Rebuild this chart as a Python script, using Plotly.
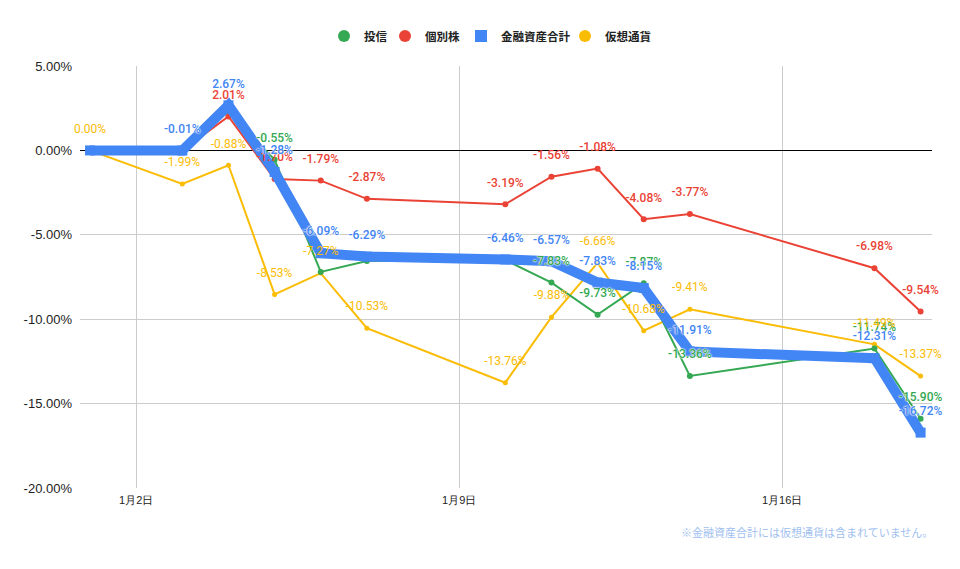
import plotly.graph_objects as go

dates = ["2024-01-01", "2024-01-03", "2024-01-04", "2024-01-05", "2024-01-06", "2024-01-07",
         "2024-01-10", "2024-01-11", "2024-01-12", "2024-01-13", "2024-01-14", "2024-01-18", "2024-01-19"]
toushin = [0.00, 0.00, 2.31, -0.55, -7.20, -6.55, -6.50, -7.83, -9.73, -7.87, -13.36, -11.74, -15.90]
kobetsu = [0.00, 0.00, 2.01, -1.70, -1.79, -2.87, -3.19, -1.56, -1.08, -4.08, -3.77, -6.98, -9.54]
total = [0.00, -0.01, 2.67, -1.28, -6.09, -6.29, -6.46, -6.57, -7.83, -8.15, -11.91, -12.31, -16.72]
crypto = [0.00, -1.99, -0.88, -8.53, -7.27, -10.53, -13.76, -9.88, -6.66, -10.68, -9.41, -11.49, -13.37]

names = ["投信", "個別株", "金融資産合計", "仮想通貨"]
colors = ["#34A853", "#EA4335", "#4285F4", "#FBBC04"]
x_ticks = ["2024-01-02", "2024-01-09", "2024-01-16"]
x_ticklabels = ["1月2日", "1月9日", "1月16日"]
y_ticks = [5, 0, -5, -10, -15, -20]
y_ticklabels = ["5.00%", "0.00%", "-5.00%", "-10.00%", "-15.00%", "-20.00%"]
footnote = "※金融資産合計には仮想通貨は含まれていません。"

# indices whose data labels are hidden behind other labels in the original chart
hidden_labels = {
    "投信": {0, 1, 2, 4, 5, 6},
    "個別株": {0, 1},
    "金融資産合計": {0},
    "仮想通貨": set(),
}

series = dict(zip(names, [toushin, kobetsu, total, crypto]))
col = dict(zip(names, colors))

fig = go.Figure()

styles = {
    "投信": dict(width=2, size=6, symbol="circle"),
    "個別株": dict(width=2, size=6, symbol="circle"),
    "金融資産合計": dict(width=10, size=10, symbol="square"),
    "仮想通貨": dict(width=2, size=5, symbol="circle"),
}
for n in ["仮想通貨", "投信", "個別株", "金融資産合計"]:
    st = styles[n]
    fig.add_trace(go.Scatter(
        x=dates, y=series[n], mode="lines+markers", name=n, showlegend=False,
        line=dict(color=col[n], width=st["width"]),
        marker=dict(color=col[n], size=st["size"], symbol=st["symbol"]),
        cliponaxis=False, hoverinfo="skip"))

halo = "0px 0px 2px white, 0px 0px 2px white, 0px 0px 1px white"
# labels on top of all lines
for n in ["投信", "個別株", "仮想通貨", "金融資産合計"]:
    is_crypto = n == "仮想通貨"
    labels = ["" if i in hidden_labels[n] else f"{v:.2f}%" for i, v in enumerate(series[n])]
    fig.add_trace(go.Scatter(
        x=dates, y=series[n], mode="markers+text", showlegend=False,
        text=labels,
        textposition="top center",
        marker=dict(size=22, opacity=0, color=col[n]),
        textfont=dict(family="Roboto", size=12, color=col[n],
                      weight=400 if is_crypto else 500,
                      shadow=halo if n in ("金融資産合計", "投信") else "none"),
        cliponaxis=False, hoverinfo="skip"))

# legend entries, each in its own legend to match spacing
legend_px = [345, 406, 482, 586]
legend_ids = ["legend", "legend2", "legend3", "legend4"]
for n, lid in zip(names, legend_ids):
    st = styles[n]
    fig.add_trace(go.Scatter(
        x=[None], y=[None], mode="markers", name=n, legend=lid,
        marker=dict(color=col[n], size=12 if st["symbol"] == "circle" else 9, symbol=st["symbol"])))

fig.add_annotation(text=footnote, xref="paper", yref="paper", x=1.004, y=-0.105,
                   xanchor="right", yanchor="middle", showarrow=False,
                   font=dict(family="Noto Sans CJK JP", size=11, color="#9fbff0"))

plot_l, plot_w = 80, 852
leg_common = dict(orientation="h", yanchor="middle", y=1.071, xanchor="left",
                  font=dict(family="Noto Sans CJK JP", size=11.5, color="#222222", weight=700),
                  itemsizing="constant", bgcolor="rgba(0,0,0,0)")
legends = {}
for lid, px in zip(legend_ids, legend_px):
    legends[lid] = dict(leg_common, x=(px - 21 - plot_l) / plot_w)

fig.update_layout(
    width=960, height=569,
    margin=dict(l=80, r=28, t=66, b=81),
    paper_bgcolor="white", plot_bgcolor="white",
    font=dict(family="Liberation Sans, Arial", size=12, color="#222222"),
    xaxis=dict(type="date", range=["2023-12-31 18:47", "2024-01-19 05:56"],
               tickvals=x_ticks, ticktext=x_ticklabels, showgrid=True, gridcolor="#cccccc",
               gridwidth=1, zeroline=False, showline=False, ticks="", ticklabelstandoff=4,
               tickfont=dict(family="Liberation Sans, Arial", size=11, color="#222222")),
    yaxis=dict(range=[-20, 5], tickvals=y_ticks, ticktext=y_ticklabels,
               showgrid=True, gridcolor="#cccccc", gridwidth=1,
               zeroline=True, zerolinecolor="#000000", zerolinewidth=1,
               showline=False, ticks="", ticklabelstandoff=7,
               tickfont=dict(family="Liberation Sans, Arial", size=13, color="#222222")),
    hovermode=False,
    **legends,
)

fig.write_html("out.html")
